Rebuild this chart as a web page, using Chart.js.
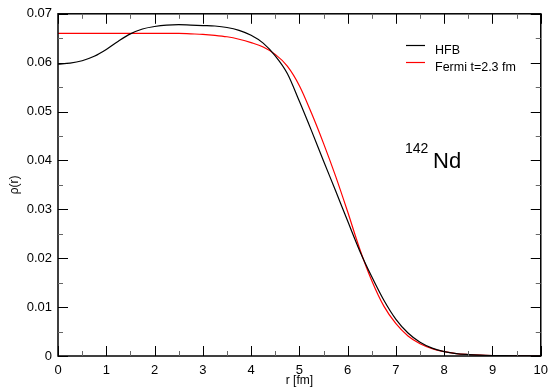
<!DOCTYPE html>
<html>
<head>
<meta charset="utf-8">
<script src="https://cdn.jsdelivr.net/npm/chart.js@4.4.0/dist/chart.umd.min.js"></script>
<style>
html,body{margin:0;padding:0;background:#fff;}
#wrap{width:555px;height:388px;position:relative;}
</style>
</head>
<body>
<div id="wrap"><canvas id="c" width="555" height="388"></canvas></div>
<script>
// radius grid (fm)
const radius = [0,0.25,0.5,0.75,1,1.25,1.5,1.75,2,2.25,2.5,2.75,3,3.25,3.5,3.75,4,4.25,4.5,4.75,5,5.25,5.5,5.75,6,6.25,6.5,6.75,7,7.25,7.5,7.75,8,8.25,8.5,8.75,9,9.25,9.5,9.75,10];
// HFB density (black)
const hfb = [0.0597,0.0599,0.0604,0.0613,0.0627,0.0644,0.0659,0.0669,0.0674,0.0677,0.0678,0.0677,0.0676,0.0675,0.0672,0.0666,0.0656,0.0640,0.0614,0.0578,0.0521,0.0461,0.0399,0.0338,0.0276,0.0215,0.0162,0.0114,0.0075,0.0047,0.0028,0.0016,0.0009,0.0005,0.0003,0.00017,0.0001,0.00006,0.00004,0.00002,0.00001];
// Fermi density t=2.3 fm (red)
const fermi = [0.0660,0.0660,0.0660,0.0660,0.0660,0.0660,0.0660,0.0660,0.0660,0.0660,0.0660,0.0659,0.0658,0.0656,0.0653,0.0648,0.0641,0.0632,0.0617,0.0593,0.0553,0.0497,0.0435,0.0368,0.0295,0.0219,0.0154,0.0102,0.0066,0.0041,0.0025,0.0015,0.0009,0.0005,0.0003,0.00017,0.0001,0.00006,0.00004,0.00002,0.00001];
const seriesLabels = ['HFB','Fermi t=2.3 fm'];
const xTickLabels = ['0','1','2','3','4','5','6','7','8','9','10'];
const yTickLabels = ['0','0.01','0.02','0.03','0.04','0.05','0.06','0.07'];
const nucleusMass = '142';
const nucleusSymbol = 'Nd';

const FONT = '"Liberation Sans", Arial, Helvetica, sans-serif';

const pts = (ys) => radius.map((r,i)=>({x:r,y:ys[i]}));

const framePlugin = {
  id:'frame',
  afterDraw(chart){
    const ctx = chart.ctx, a = chart.chartArea;
    const xs = chart.scales.x, ys = chart.scales.y;
    ctx.save();
    ctx.strokeStyle = '#000';
    ctx.lineWidth = 1.5;
    ctx.strokeRect(a.left, a.top, a.right-a.left, a.bottom-a.top);
    for (let i=0;i<=20;i++){
      const v = i*0.5, major = (i%2===0);
      const px = Math.round(xs.getPixelForValue(v))+0.5;
      const len = major?10:5;
      ctx.strokeStyle = major?'#000':'#666';
      ctx.lineWidth = 1;
      ctx.beginPath();
      ctx.moveTo(px,a.bottom); ctx.lineTo(px,a.bottom-len);
      ctx.moveTo(px,a.top); ctx.lineTo(px,a.top+len);
      ctx.stroke();
    }
    for (let i=0;i<=14;i++){
      const v = i*0.005, major = (i%2===0);
      const py = Math.round(ys.getPixelForValue(v))+0.5;
      const len = major?10:5;
      ctx.strokeStyle = major?'#000':'#666';
      ctx.lineWidth = 1;
      ctx.beginPath();
      ctx.moveTo(a.left,py); ctx.lineTo(a.left+len,py);
      ctx.moveTo(a.right,py); ctx.lineTo(a.right-len,py);
      ctx.stroke();
    }
    const colors = ['#000','#ff0000'];
    const lineY = [45.5, 62.5];
    const textY = [54, 70.5];
    ctx.font = '12.5px ' + FONT;
    ctx.textBaseline = 'alphabetic';
    ctx.textAlign = 'left';
    for (let k=0;k<2;k++){
      ctx.strokeStyle = colors[k];
      ctx.lineWidth = 1.2;
      ctx.beginPath(); ctx.moveTo(406,lineY[k]); ctx.lineTo(425,lineY[k]); ctx.stroke();
      ctx.fillStyle = '#000';
      ctx.fillText(chart.data.datasets[k].label, 435, textY[k]);
    }
    ctx.fillStyle = '#000';
    ctx.font = '14px ' + FONT;
    ctx.fillText(nucleusMass, 405, 153);
    ctx.font = '22px ' + FONT;
    ctx.fillText(nucleusSymbol, 433, 168);
    ctx.restore();
  }
};

new Chart(document.getElementById('c'), {
  type:'line',
  data:{
    datasets:[
      {label:seriesLabels[0], data:pts(hfb), borderColor:'#000', borderWidth:1.2, pointRadius:0, fill:false, cubicInterpolationMode:'monotone'},
      {label:seriesLabels[1], data:pts(fermi), borderColor:'#ff0000', borderWidth:1.2, pointRadius:0, fill:false, cubicInterpolationMode:'monotone'}
    ]
  },
  options:{
    responsive:false,
    animation:false,
    devicePixelRatio:1,
    layout:{padding:{left:0,right:9,top:12,bottom:0}},
    plugins:{legend:{display:false}, tooltip:{enabled:false}},
    scales:{
      x:{
        type:'linear', min:0, max:10,
        afterFit(s){ s.height = 32; },
        afterBuildTicks(s){ s.ticks = xTickLabels.map((t,i)=>({value:i})); },
        grid:{display:false, drawTicks:false},
        border:{display:false},
        ticks:{color:'#000', padding:7, maxRotation:0, autoSkip:false, font:{family:FONT,size:13},
               callback:(v,i)=>xTickLabels[i]},
        title:{display:true, text:'r [fm]', color:'#000', font:{family:FONT,size:12}, padding:{top:0,bottom:0}}
      },
      y:{
        type:'linear', min:0, max:0.07,
        afterFit(s){ s.width = 58; },
        afterBuildTicks(s){ s.ticks = yTickLabels.map((t,i)=>({value:i*0.01})); },
        grid:{display:false, drawTicks:false},
        border:{display:false},
        ticks:{color:'#000', padding:6, autoSkip:false, font:{family:FONT,size:13},
               callback:(v,i)=>yTickLabels[i]},
        title:{display:true, text:'ρ(r)', color:'#000', font:{family:FONT,size:12}, padding:{top:7,bottom:0}}
      }
    }
  },
  plugins:[framePlugin]
});
</script>
</body>
</html>
